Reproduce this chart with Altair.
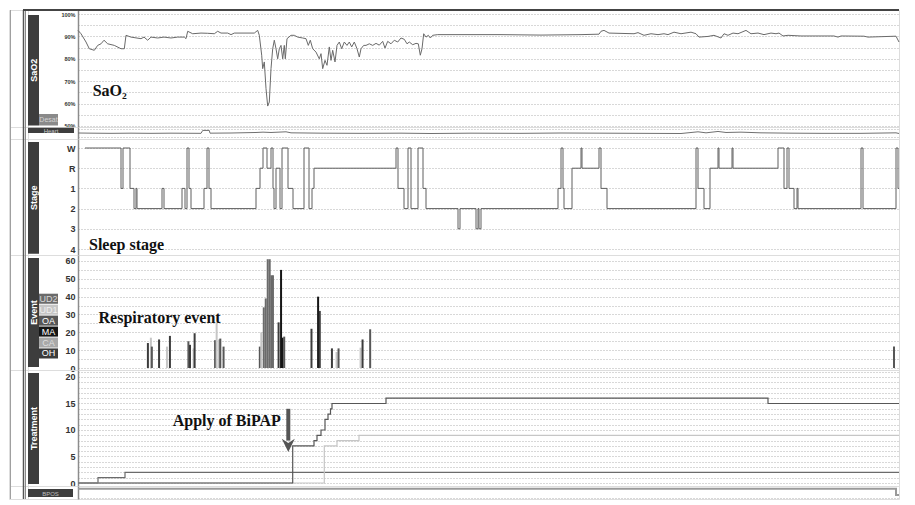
import altair as alt
import pandas as pd

# ---------------- data (time position t along the recording: 0 .. 821) ----------------
T_END = 821

sao2_t = [0, 3, 8, 11.3, 16.3, 19.7, 23, 26, 29.7, 36.3, 43, 46.3, 48, 53, 63, 66, 69.7, 73, 79.7, 86,
          93, 99.7, 106.3, 108, 109.7, 114.7, 123, 129.7, 136.3, 139.7, 143, 149.7, 153, 156.3, 176.3,
          179.7, 181.3, 183.7, 184.7, 186.3, 188, 189.7, 191.3, 193, 194.7, 196.3, 198, 199.7, 201.3,
          203, 204.7, 206.3, 207.3, 209, 213, 216.3, 219.7, 224.7, 228, 230.3, 232.3, 234.7, 238, 241.3,
          243, 244.7, 247, 249, 251.3, 253, 254.7, 257, 259, 261.3, 263.7, 266.3, 269, 271.3, 273.7,
          276.3, 279, 281.3, 283, 285.7, 288, 291.3, 294.7, 298, 301.3, 304.7, 307, 309.7, 313, 316.3,
          319.7, 323, 326.3, 329, 331.3, 334.7, 338, 340.3, 342.3, 344, 345.7, 348, 350.3, 352.3, 354.7,
          359.7, 383, 423, 463, 503, 521, 523, 526, 531, 556, 560, 566, 573, 580, 586, 590, 596, 603,
          613, 618, 621, 630, 636, 643, 646, 650, 655, 660, 668, 673, 680, 686, 693, 698, 701, 705, 710,
          723, 756, 760, 763, 786, 790, 818, 821]
sao2_v = [92.7, 91.2, 87.5, 84.5, 83.8, 86.0, 86.7, 88.3, 86.7, 86.0, 84.5, 84.5, 90.5, 89.7, 89.0, 89.7,
          88.3, 89.7, 89.3, 89.7, 89.3, 89.7, 89.7, 89.0, 92.3, 91.2, 91.5, 91.4, 91.2, 92.3, 91.5, 91.5,
          90.8, 91.5, 91.5, 92.7, 90.5, 81.6, 75.6, 78.6, 66.7, 58.9, 60.7, 75.6, 84.5, 88.3, 84.5, 80.0,
          84.5, 86.0, 80.0, 86.0, 80.0, 89.0, 90.5, 90.5, 89.7, 89.3, 89.0, 86.0, 88.3, 84.5, 83.0, 80.0,
          82.3, 75.6, 79.3, 77.1, 85.3, 79.3, 83.8, 78.6, 86.0, 87.5, 84.5, 87.5, 86.0, 87.5, 85.3, 87.5,
          84.5, 80.8, 84.5, 86.0, 86.0, 86.7, 86.0, 86.9, 86.1, 87.8, 84.8, 87.8, 86.7, 88.3, 87.5, 89.3,
          88.7, 86.7, 87.5, 86.3, 86.9, 86.7, 81.6, 84.5, 91.2, 89.7, 90.5, 89.3, 90.5, 90.8, 90.8, 90.8,
          90.6, 90.8, 91.0, 92.3, 92.7, 91.5, 91.2, 91.7, 90.5, 91.2, 90.8, 91.2, 90.8, 91.9, 91.2, 91.9,
          91.2, 89.7, 90.0, 90.5, 89.3, 91.2, 90.5, 91.5, 91.2, 92.7, 91.2, 91.5, 90.8, 91.5, 91.2, 91.5,
          90.2, 90.5, 90.2, 90.2, 89.7, 90.2, 90.1, 89.7, 90.1, 87.5]

heart_t = [0, 13, 33, 53, 73, 93, 123, 124.7, 131.3, 132, 153, 178, 185, 193, 208, 213, 243, 283, 323,
           353, 393, 443, 483, 523, 563, 603, 620, 628, 640, 648, 663, 683, 713, 743, 783, 818, 821]
heart_v = [75, 74, 73, 74, 73, 74, 73, 90, 90, 74, 75, 78, 80, 78, 82, 76, 74, 73, 74,
           72, 74, 73, 75, 74, 73, 72, 82, 76, 84, 78, 80, 76, 74, 73, 73, 76, 72]

stage_labels = ["W", "R", "1", "2", "3", "4"]
stage_t = [7, 43, 45, 52, 56, 58, 59, 84, 86, 104, 107, 109, 111, 113, 126, 129, 131, 133, 178, 182, 185,
           189, 193, 195, 196, 198, 202, 204, 210, 215, 226, 231, 234, 236, 318, 320, 326, 330, 333, 340,
           345, 348, 380, 382, 398, 400, 401, 403, 480, 483, 485, 486, 494, 503, 504, 521, 523, 529, 618,
           620, 626, 632, 640, 641, 654, 655, 700, 706, 709, 711, 716, 719, 720, 783, 785, 818, 820, 821]
stage_v = [0, 2, 0, 2, 3, 2, 3, 2, 3, 2, 3, 0, 2, 3, 2, 0, 2, 3, 2, 1, 0,
           1, 0, 2, 3, 1, 3, 0, 2, 3, 0, 3, 2, 1, 0, 2, 3, 0, 3, 0,
           2, 3, 4, 3, 4, 3, 4, 3, 2, 0, 2, 3, 1, 0, 1, 0, 2, 3, 0,
           2, 3, 1, 0, 1, 0, 1, 0, 2, 0, 2, 3, 2, 3, 0, 3, 0, 2, 2]

event_types = ["UD2", "UD1", "OA", "MA", "CA", "OH"]
event_colors = ["#6b6b6b", "#c6c6c6", "#575757", "#161616", "#a9a9a9", "#3c3c3c"]
event_text_colors = ["#d8d8d8", "#f0f0f0", "#ffffff", "#ffffff", "#dedede", "#ffffff"]
event_t = [65.7, 68.7, 69.7, 77, 85, 88, 106.7, 108.3, 112, 113, 133.7, 135.3, 138, 139, 142.3, 179, 180.5,
           183, 185, 187, 189, 190.7, 192.3, 198, 200.5, 202, 203.7, 231.3, 238, 239.7, 252, 256.7, 258.7,
           281, 283, 290.7, 821]
event_v = [14, 17, 12, 16, 12, 18, 15, 13, 11, 19.5, 15.6, 25.6, 16, 16.5, 12, 12, 20,
           34, 39, 61, 61, 52, 52, 25.6, 55, 17, 17.6, 22, 40, 32, 11, 9, 11,
           11.4, 16, 21.7, 12]
event_k = ["OH", "UD1", "OA", "OH", "UD1", "OH", "OA", "OH", "UD1", "OH", "OA", "UD1", "CA", "OA", "OA",
           "OA", "UD1", "UD2", "UD2", "UD2", "UD2", "UD2", "UD2", "OH", "MA", "MA", "OA", "OH", "MA", "OH",
           "OH", "UD1", "OA", "UD1", "OH", "OA", "OA"]

ipap_t = [0, 214.7, 236, 239, 243, 247, 250, 252.5, 254, 308, 690, 821]
ipap_v = [0, 7, 8, 9, 10, 12, 13, 14, 15, 16, 15, 15]
epap_t = [0, 246.3, 259, 281, 821]
epap_v = [0, 7, 8, 9, 9]
o2_t = [0, 20, 47, 821]
o2_v = [0, 1, 2, 2]

bpos_t = [0, 818, 821]
bpos_v = [1, 0, 0]

panel_names = ["SaO2", "Heart", "Stage", "Event", "Treatment", "BPOS"]

# ---------------- helpers ----------------
PLOT_W = 821
LAB_W = 50
FRAME_W = 19
DARK = "#3d3d3d"
one = pd.DataFrame({"k": [0]})
XS = alt.X("t:Q", scale=alt.Scale(domain=[0, T_END], nice=False, zero=False), axis=None)


def yaxis(values, expr=None, size=9, labels=True):
    kw = dict(values=values, tickCount=len(values), ticks=False, domain=True, domainColor="#8c8c8c",
              domainWidth=1.5, grid=True, gridColor="#b0b0b0", gridDash=[1, 2], gridWidth=1,
              labels=labels, labelOverlap=False, labelFont="Liberation Sans", labelFontWeight="bold",
              labelFontSize=size, labelColor="#333333", labelPadding=3, title="")
    if expr:
        kw["labelExpr"] = expr
    return alt.Axis(**kw)


def ann(text, t, v, yscale):
    df = pd.DataFrame({"t": [t], "v": [v], "s": [text]})
    return alt.Chart(df).mark_text(align="left", baseline="alphabetic", font="Liberation Serif",
                                   fontWeight="bold", fontSize=16, color="#111111").encode(
        x=XS, y=alt.Y("v:Q", scale=yscale), text="s:N")


def frame_col(h, top=False):
    base = alt.Chart(one)
    layers = [
        base.mark_rule(color="#a0a0a0", strokeWidth=1).encode(x=alt.value(1.5)),
        base.mark_rule(color="#555555", strokeWidth=1.5).encode(x=alt.value(14.5)),
        base.mark_rule(color="#8a8a8a", strokeWidth=1).encode(x=alt.value(16.5)),
    ]
    if top:
        layers.append(base.mark_rule(color="#444444", strokeWidth=2).encode(
            x=alt.value(14), x2=alt.value(FRAME_W), y=alt.value(0)))
    return alt.layer(*layers).properties(width=FRAME_W, height=h)


def bar_label(name, h, y0, y1, x1=11, horizontal=False, fs=9, color="white", extra=None, top=False):
    base = alt.Chart(one)
    layers = [base.mark_rect(color=DARK).encode(x=alt.value(0), x2=alt.value(x1),
                                                  y=alt.value(y0), y2=alt.value(y1))]
    if horizontal:
        layers.append(base.mark_text(color=color, font="Liberation Sans", fontSize=fs).encode(
            x=alt.value(x1 / 2), y=alt.value((y0 + y1) / 2 + 0.5), text=alt.value(name)))
    else:
        layers.append(base.mark_text(angle=270, color=color, font="Liberation Sans", fontWeight="bold",
                                     fontSize=fs).encode(
            x=alt.value(x1 / 2 + 0.5), y=alt.value((y0 + y1) / 2), text=alt.value(name)))
    if extra:
        layers += extra
    if top:
        layers.append(base.mark_rule(color="#444444", strokeWidth=2).encode(y=alt.value(0)))
    return alt.layer(*layers).properties(width=LAB_W, height=h)


cells = []

# ---------------- SaO2 ----------------
H1 = 117
s1 = alt.Scale(domain=[49.55, 101.8], nice=False, zero=False)
sao2_df = pd.DataFrame({"t": sao2_t, "v": sao2_v})
sao2_main = alt.layer(
    alt.Chart(sao2_df).mark_line(color="#6a6a6a", strokeWidth=1).encode(
        x=XS, y=alt.Y("v:Q", scale=s1,
                      axis=yaxis(list(range(50, 101, 5)),
                                 "datum.value % 10 == 0 ? datum.value + '%' : ''", size=5.5))),
    ann("SaO\u2082", 14.7, 63.3, s1),
    alt.Chart(one).mark_rule(color="#444444", strokeWidth=2).encode(y=alt.value(0)),
).properties(width=PLOT_W, height=H1)
desat = [
    alt.Chart(one).mark_rect(color="#8a8a8a").encode(x=alt.value(11), x2=alt.value(30),
                                                    y=alt.value(104), y2=alt.value(115.5)),
    alt.Chart(one).mark_text(color="#d4d4d4", font="Liberation Sans", fontSize=7).encode(
        x=alt.value(20.5), y=alt.value(110), text=alt.value("Desat")),
]
cells += [frame_col(H1, top=True), bar_label(panel_names[0], H1, 5, 115.5, extra=desat, top=True), sao2_main]

# ---------------- Heart ----------------
H2 = 12
s2 = alt.Scale(domain=[40, 110], nice=False, zero=False)
heart_df = pd.DataFrame({"t": heart_t, "v": heart_v})
heart_main = alt.Chart(heart_df).mark_line(color="#707070", strokeWidth=1).encode(
    x=XS, y=alt.Y("v:Q", scale=s2, axis=yaxis([50, 100], labels=False))
).properties(width=PLOT_W, height=H2)
cells += [frame_col(H2), bar_label(panel_names[1], H2, 0.7, 6, x1=46, horizontal=True, fs=6,
                                   color="#cfcfcf"), heart_main]

# ---------------- Stage ----------------
H3 = 116
s3 = alt.Scale(domain=[-0.446, 5.297], nice=False, zero=False, reverse=True)
stage_df = pd.DataFrame({"t": stage_t, "v": stage_v})
stage_expr = "[" + ",".join("'%s'" % s for s in stage_labels) + "][datum.value]"
stage_main = alt.layer(
    alt.Chart(stage_df).mark_line(color="#5e5e5e", strokeWidth=1, interpolate="step-after").encode(
        x=XS, y=alt.Y("v:Q", scale=s3, axis=yaxis(list(range(6)), stage_expr, size=9))),
    ann("Sleep stage", 11, 5.06, s3),
).properties(width=PLOT_W, height=H3)
cells += [frame_col(H3), bar_label(panel_names[2], H3, 3, 114.7), stage_main]

# ---------------- Event ----------------
H4 = 115
s4 = alt.Scale(domain=[-1.12, 63.36], nice=False, zero=False)
ev_df = pd.DataFrame({"t": event_t, "v": event_v, "k": event_k})
ev_color = alt.Scale(domain=event_types, range=event_colors)
event_main = alt.layer(
    alt.Chart(ev_df).mark_bar(size=2).encode(
        x=XS,
        y=alt.Y("v:Q", scale=s4, axis=yaxis(list(range(0, 61, 5)),
                                            "datum.value % 10 == 0 ? datum.value : ''", size=9)),
        y2=alt.datum(0),
        color=alt.Color("k:N", scale=ev_color, legend=None)),
    ann("Respiratory event", 15.7, 25.4, s4),
).properties(width=PLOT_W, height=H4)
leg_df = pd.DataFrame({"k": event_types, "tc": event_text_colors})
leg_y = alt.Scale(domain=event_types, range=[38.7, 103.5], paddingInner=0.08, paddingOuter=0)
legend_layers = [
    alt.Chart(leg_df).mark_rect().encode(
        x=alt.value(11), x2=alt.value(30),
        y=alt.Y("k:N", scale=leg_y, axis=None),
        color=alt.Color("k:N", scale=ev_color, legend=None)),
    alt.Chart(leg_df).mark_text(font="Liberation Sans", fontSize=9).encode(
        x=alt.value(20.5), y=alt.Y("k:N", scale=leg_y, axis=None), text="k:N",
        color=alt.Color("tc:N", scale=None)),
]
cells += [frame_col(H4), bar_label(panel_names[3], H4, 3, 112, extra=legend_layers), event_main]

# ---------------- Treatment ----------------
H5 = 116
s5 = alt.Scale(domain=[-0.566, 21.32], nice=False, zero=False)
tr_df = pd.concat([
    pd.DataFrame({"t": o2_t, "v": o2_v, "s": "O2"}),
    pd.DataFrame({"t": epap_t, "v": epap_v, "s": "EPAP"}),
    pd.DataFrame({"t": ipap_t, "v": ipap_v, "s": "IPAP"}),
])
arrow_df = pd.DataFrame({"t": [210.3], "v0": [14.0], "v1": [8.0], "vh": [7.1]})
treat_main = alt.layer(
    alt.Chart(tr_df).mark_line(strokeWidth=1.2, interpolate="step-after").encode(
        x=XS,
        y=alt.Y("v:Q", scale=s5, axis=yaxis(list(range(0, 22)),
                                            "datum.value % 5 == 0 ? datum.value : ''", size=9)),
        color=alt.Color("s:N", scale=alt.Scale(domain=["O2", "EPAP", "IPAP"],
                                                range=["#858585", "#c4c4c4", "#a8a8a8"]), legend=None),
        detail="s:N"),
    ann("Apply of BiPAP", 94.7, 10.7, s5),
    alt.Chart(arrow_df).mark_rule(color="#555555", strokeWidth=4).encode(
        x=XS, y=alt.Y("v0:Q", scale=s5), y2="v1:Q"),
    alt.Chart(arrow_df).mark_point(shape="M-1,-1L0,1L1,-1L0,-0.35Z", filled=True, size=170,
                                   color="#555555", opacity=1).encode(
        x=XS, y=alt.Y("vh:Q", scale=s5)),
).properties(width=PLOT_W, height=H5)
cells += [frame_col(H5), bar_label(panel_names[4], H5, 3, 114), treat_main]

# ---------------- BPOS ----------------
H6 = 13
s6 = alt.Scale(domain=[-0.63, 1.43], nice=False, zero=False)
bpos_df = pd.DataFrame({"t": bpos_t, "v": bpos_v})
bpos_main = alt.Chart(bpos_df).mark_line(color="#9a9a9a", strokeWidth=2, interpolate="step-after").encode(
    x=XS, y=alt.Y("v:Q", scale=s6, axis=yaxis([-0.5], labels=False))
).properties(width=PLOT_W, height=H6)
cells += [frame_col(H6), bar_label(panel_names[5], H6, 3, 11, x1=45, horizontal=True, fs=6,
                                   color="#bdbdbd"), bpos_main]

chart = alt.concat(*cells, columns=3, spacing=0, bounds="flush").properties(
    padding=0
).configure_view(strokeWidth=0).configure(font="Liberation Sans")

chart.save("out.html", embed_options={"renderer": "svg", "actions": False})
